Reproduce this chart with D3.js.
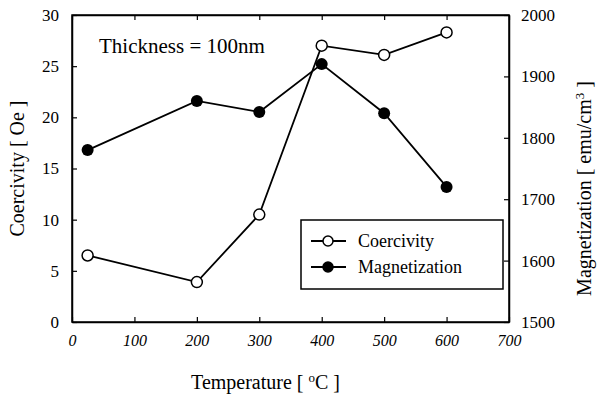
<!DOCTYPE html>
<html>
<head>
<meta charset="utf-8">
<script src="https://cdn.jsdelivr.net/npm/d3@7"></script>
<style>
  body { margin: 0; background: #fff; }
  svg text { font-family: "Liberation Serif", "Times New Roman", "DejaVu Serif", serif !important; fill: #000; }
</style>
</head>
<body>
<div id="chart"></div>
<script>
// data
const temps = [25, 200, 300, 400, 500, 600];
const coercivity = [6.5, 3.9, 10.5, 27, 26.1, 28.3];
const magnetization = [1780, 1860, 1842, 1920, 1840, 1720];
const xTicks = [0, 100, 200, 300, 400, 500, 600, 700];
const leftTicks = [0, 5, 10, 15, 20, 25, 30];
const rightTicks = [1500, 1600, 1700, 1800, 1900, 2000];

const width = 604, height = 399;
const margin = {left: 72, right: 95, top: 15, bottom: 77};
const innerW = width - margin.left - margin.right;
const innerH = height - margin.top - margin.bottom;

const svg = d3.select("#chart").append("svg")
    .attr("width", width)
    .attr("height", height);

const g = svg.append("g")
    .attr("transform", "translate(" + margin.left + "," + margin.top + ")");

const x = d3.scaleLinear().domain([0, 700]).range([0, innerW]);
const yL = d3.scaleLinear().domain([0, 30]).range([innerH, 0]);
const yR = d3.scaleLinear().domain([1500, 2000]).range([innerH, 0]);

// frame
g.append("rect")
    .attr("width", innerW)
    .attr("height", innerH)
    .attr("fill", "none")
    .attr("stroke", "#000")
    .attr("stroke-width", 1.5);

// axes with inward ticks
const xAxis = g.append("g")
    .attr("transform", "translate(0," + innerH + ")")
    .call(d3.axisBottom(x).tickValues(xTicks).tickFormat(d3.format("d")).tickSizeInner(-5).tickSizeOuter(0).tickPadding(13));
xAxis.selectAll("text").style("font-style", "italic").attr("font-size", 16);

g.append("g")
    .call(d3.axisTop(x).tickValues(xTicks).tickSizeInner(-5).tickSizeOuter(0))
    .selectAll("text").remove();

const leftAxis = g.append("g")
    .call(d3.axisLeft(yL).tickValues(leftTicks).tickFormat(d3.format("d")).tickSizeInner(-5).tickSizeOuter(0).tickPadding(13));
leftAxis.selectAll("text").attr("font-size", 17);

const rightAxis = g.append("g")
    .attr("transform", "translate(" + innerW + ",0)")
    .call(d3.axisRight(yR).tickValues(rightTicks).tickFormat(d3.format("d")).tickSizeInner(-5).tickSizeOuter(0).tickPadding(12));
rightAxis.selectAll("text").attr("font-size", 17);

g.selectAll(".domain").attr("stroke-width", 1.5);
g.selectAll(".tick line").attr("stroke-width", 1.2);
g.selectAll("g").attr("font-family", "Liberation Serif");

// lines
const lineC = d3.line().x((d, i) => x(temps[i])).y(d => yL(d));
const lineM = d3.line().x((d, i) => x(temps[i])).y(d => yR(d));

g.append("path")
    .datum(magnetization)
    .attr("d", lineM)
    .attr("fill", "none")
    .attr("stroke", "#000")
    .attr("stroke-width", 1.8);

g.append("path")
    .datum(coercivity)
    .attr("d", lineC)
    .attr("fill", "none")
    .attr("stroke", "#000")
    .attr("stroke-width", 1.8);

g.selectAll(".mag")
    .data(magnetization)
    .enter()
    .append("circle")
    .attr("class", "mag")
    .attr("cx", (d, i) => x(temps[i]))
    .attr("cy", d => yR(d))
    .attr("r", 6)
    .attr("fill", "#000");

g.selectAll(".coe")
    .data(coercivity)
    .enter()
    .append("circle")
    .attr("class", "coe")
    .attr("cx", (d, i) => x(temps[i]))
    .attr("cy", d => yL(d))
    .attr("r", 5.5)
    .attr("fill", "#fff")
    .attr("stroke", "#000")
    .attr("stroke-width", 1.5);

// annotation
g.append("text")
    .attr("x", 27)
    .attr("y", 38)
    .attr("font-size", 21)
    .text("Thickness = 100nm");

// legend
const legend = g.append("g").attr("transform", "translate(229,205)");
legend.append("rect")
    .attr("width", 202)
    .attr("height", 69)
    .attr("fill", "#fff")
    .attr("stroke", "#000")
    .attr("stroke-width", 1.5);

const legItems = [
    {name: "Coercivity", fill: "#fff"},
    {name: "Magnetization", fill: "#000"}
];
const li = legend.selectAll(".li")
    .data(legItems)
    .enter()
    .append("g")
    .attr("transform", (d, i) => "translate(0," + (21 + i * 26) + ")");
li.append("line")
    .attr("x1", 10).attr("x2", 45)
    .attr("stroke", "#000").attr("stroke-width", 1.8);
li.append("circle")
    .attr("cx", 27).attr("r", 5)
    .attr("fill", d => d.fill)
    .attr("stroke", "#000").attr("stroke-width", 1.5);
li.append("text")
    .attr("x", 57).attr("dy", "0.35em")
    .attr("font-size", 18)
    .text(d => d.name);

// axis titles
svg.append("text")
    .attr("transform", "translate(24," + (margin.top + innerH / 2) + ") rotate(-90)")
    .attr("text-anchor", "middle")
    .attr("font-size", 20)
    .text("Coercivity [ Oe ]");

const rt = svg.append("text")
    .attr("transform", "translate(591," + (margin.top + innerH / 2 + 20) + ") rotate(-90)")
    .attr("text-anchor", "middle")
    .attr("font-size", 20);
rt.append("tspan").text("Magnetization [ emu/cm");
rt.append("tspan").attr("font-size", 13).attr("baseline-shift", "super").text("3");
rt.append("tspan").text(" ]");

const xt = svg.append("text")
    .attr("x", margin.left + x(310))
    .attr("y", 389)
    .attr("text-anchor", "middle")
    .attr("font-size", 20);
xt.append("tspan").text("Temperature [ ");
xt.append("tspan").attr("font-size", 13).attr("baseline-shift", "super").text("o");
xt.append("tspan").text("C ]");
</script>
</body>
</html>
